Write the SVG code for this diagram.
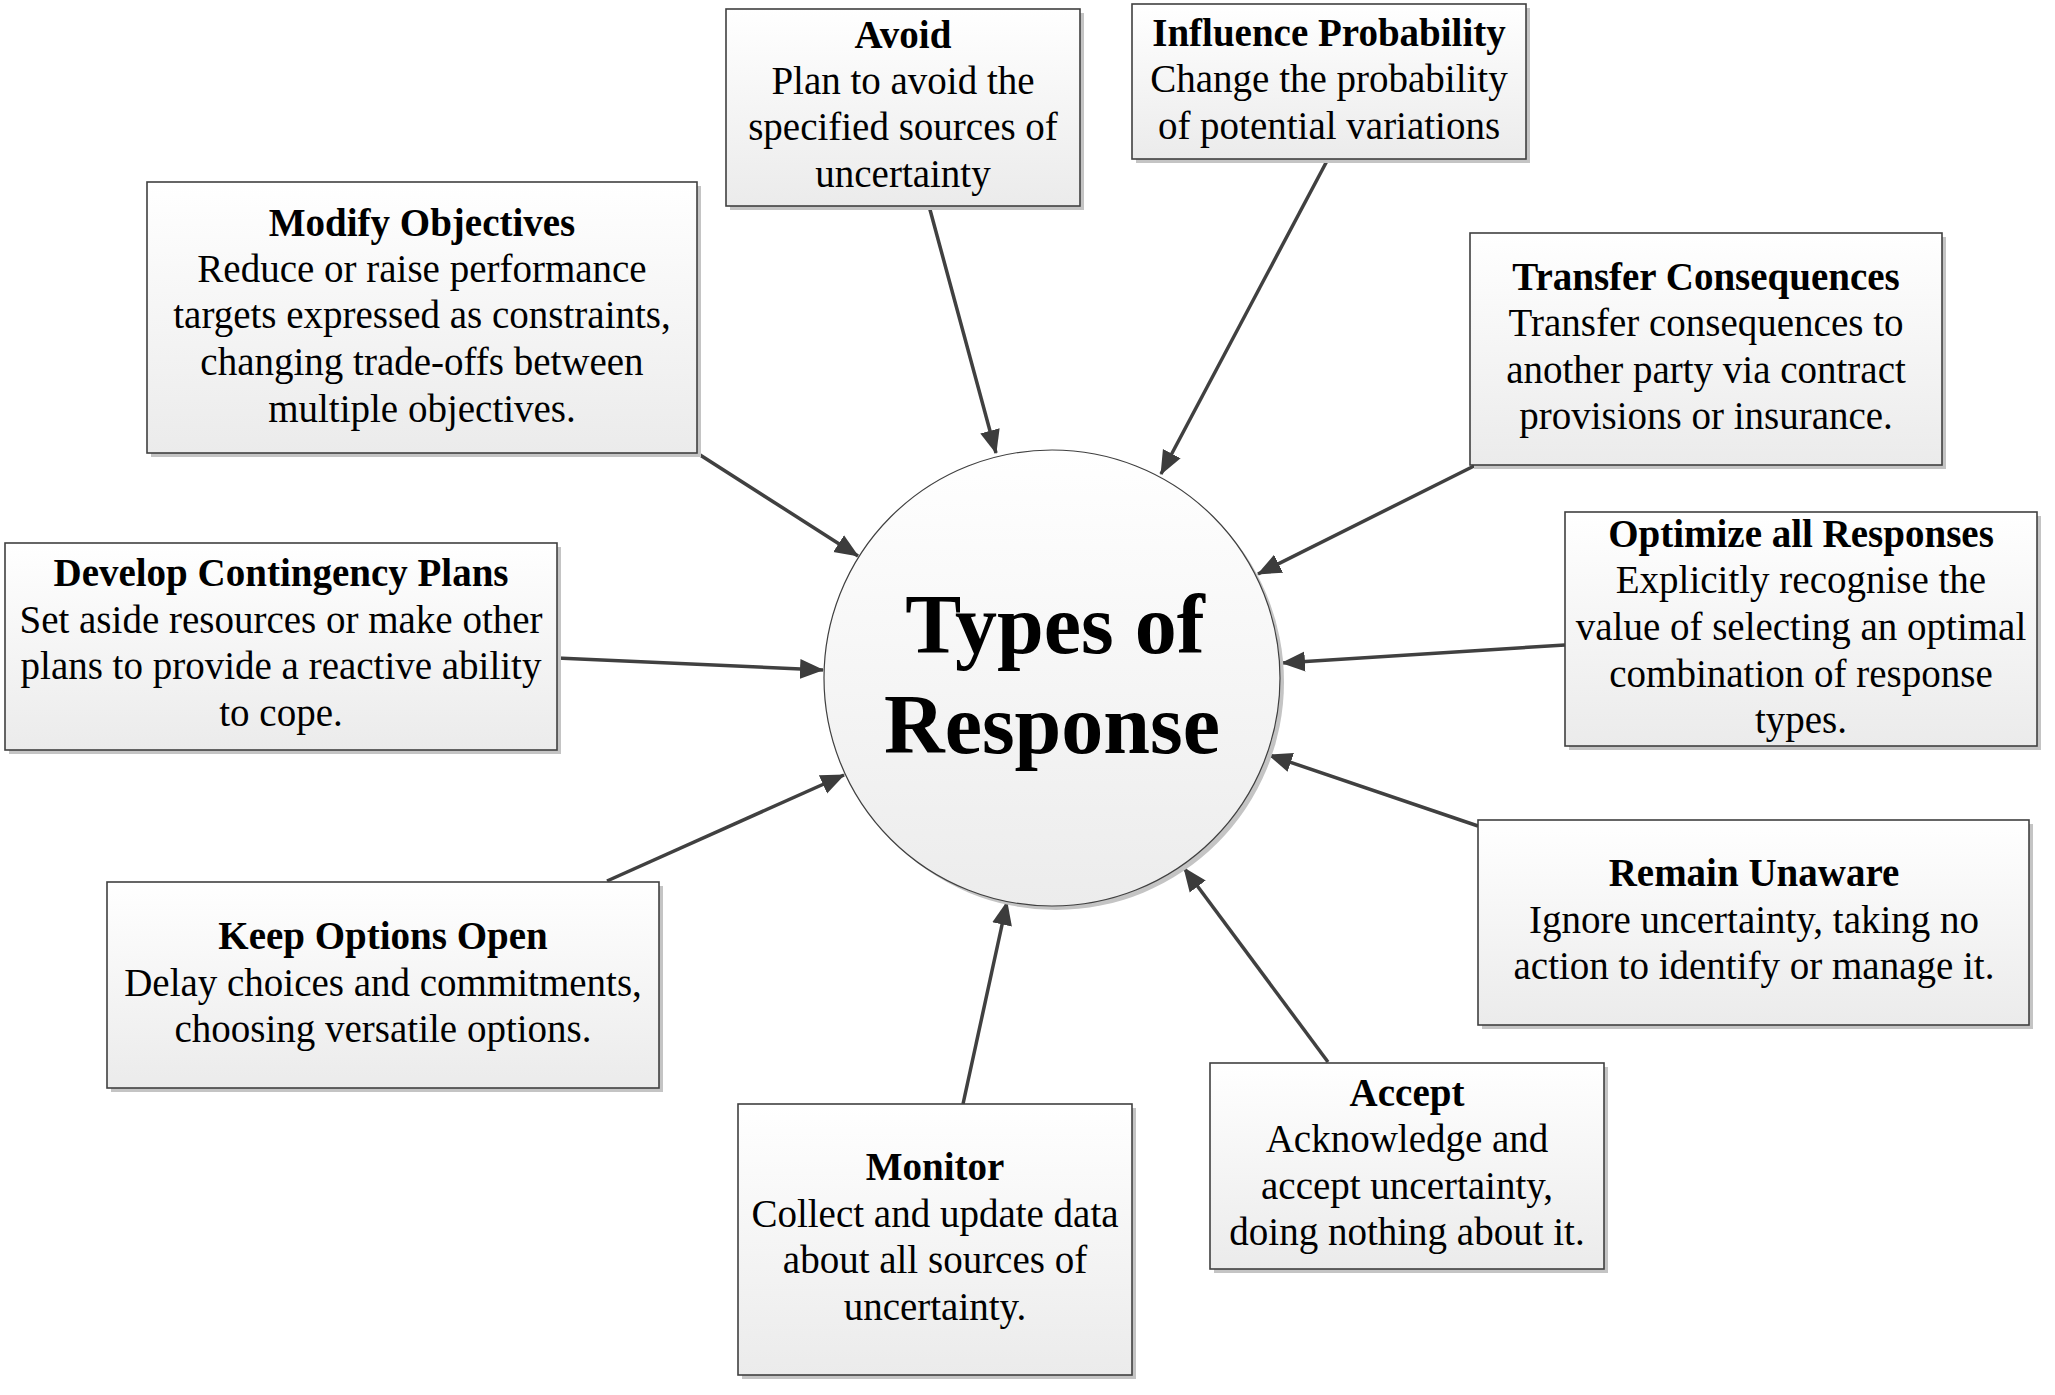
<svg xmlns="http://www.w3.org/2000/svg" width="2055" height="1395" viewBox="0 0 2055 1395">
<style>
.box{fill:url(#bg);stroke:#404040;stroke-width:1.6}
.sh{fill:#c4c4c4}
.t{font-family:"Liberation Serif","Times New Roman",serif;font-size:39px;fill:#000;text-anchor:middle}
.b{font-weight:bold}
.c{stroke:#404040;stroke-width:3.5;fill:none;marker-end:url(#ah)}
.ct{font-family:"Liberation Serif","Times New Roman",serif;font-size:84px;font-weight:bold;fill:#000;text-anchor:middle}
</style>
<defs>
<linearGradient id="bg" x1="0" y1="0" x2="0" y2="1">
<stop offset="0" stop-color="#ffffff"/>
<stop offset="1" stop-color="#ebebeb"/>
</linearGradient>
<linearGradient id="cg" x1="0" y1="0" x2="0" y2="1">
<stop offset="0" stop-color="#ffffff"/>
<stop offset="1" stop-color="#ececec"/>
</linearGradient>
<marker id="ah" markerUnits="userSpaceOnUse" viewBox="0 0 24 22" refX="23" refY="11" markerWidth="24" markerHeight="22" orient="auto">
<path d="M0,1 L24,11 L0,21 z" fill="#3c3c3c"/>
</marker>
</defs>
<rect width="2055" height="1395" fill="#ffffff"/>

<g id="connectors">
<line class="c" x1="929" y1="206" x2="996" y2="453"/>
<line class="c" x1="1328" y1="159" x2="1161" y2="474"/>
<line class="c" x1="697" y1="453" x2="858" y2="556"/>
<line class="c" x1="1476" y1="465" x2="1258" y2="574"/>
<line class="c" x1="557" y1="658" x2="823" y2="670"/>
<line class="c" x1="1565" y1="645" x2="1282" y2="663"/>
<line class="c" x1="607" y1="881" x2="844" y2="775"/>
<line class="c" x1="1478" y1="826" x2="1269" y2="755"/>
<line class="c" x1="963" y1="1104" x2="1007" y2="902"/>
<line class="c" x1="1328" y1="1062" x2="1184" y2="868"/>
</g>

<g id="center">
<circle cx="1056" cy="682" r="228" class="sh"/>
<circle cx="1052" cy="678" r="228" fill="url(#cg)" stroke="#404040" stroke-width="1.2"/>
<text class="ct" x="1055" y="653">Types of</text>
<text class="ct" x="1052" y="753">Response</text>
</g>

<g id="avoid">
<rect class="sh" x="730" y="13" width="354" height="197"/>
<rect class="box" x="726" y="9" width="354" height="197"/>
<text class="t"><tspan class="b" x="903" y="48">Avoid</tspan><tspan x="903" y="94">Plan to avoid the</tspan><tspan x="903" y="140">specified sources of</tspan><tspan x="903" y="187">uncertainty</tspan></text>
</g>

<g id="influence">
<rect class="sh" x="1136" y="8" width="394" height="155"/>
<rect class="box" x="1132" y="4" width="394" height="155"/>
<text class="t"><tspan class="b" x="1329" y="46">Influence Probability</tspan><tspan x="1329" y="92">Change the probability</tspan><tspan x="1329" y="139">of potential variations</tspan></text>
</g>

<g id="modify">
<rect class="sh" x="151" y="186" width="550" height="271"/>
<rect class="box" x="147" y="182" width="550" height="271"/>
<text class="t"><tspan class="b" x="422" y="236">Modify Objectives</tspan><tspan x="422" y="282">Reduce or raise performance</tspan><tspan x="422" y="328">targets expressed as constraints,</tspan><tspan x="422" y="375">changing trade-offs between</tspan><tspan x="422" y="422">multiple objectives.</tspan></text>
</g>

<g id="transfer">
<rect class="sh" x="1474" y="237" width="472" height="232"/>
<rect class="box" x="1470" y="233" width="472" height="232"/>
<text class="t"><tspan class="b" x="1706" y="290">Transfer Consequences</tspan><tspan x="1706" y="336">Transfer consequences to</tspan><tspan x="1706" y="383">another party via contract</tspan><tspan x="1706" y="429">provisions or insurance.</tspan></text>
</g>

<g id="develop">
<rect class="sh" x="9" y="547" width="552" height="207"/>
<rect class="box" x="5" y="543" width="552" height="207"/>
<text class="t"><tspan class="b" x="281" y="586">Develop Contingency Plans</tspan><tspan x="281" y="633">Set aside resources or make other</tspan><tspan x="281" y="679">plans to provide a reactive ability</tspan><tspan x="281" y="726">to cope.</tspan></text>
</g>

<g id="optimize">
<rect class="sh" x="1569" y="516" width="472" height="234"/>
<rect class="box" x="1565" y="512" width="472" height="234"/>
<text class="t"><tspan class="b" x="1801" y="547">Optimize all Responses</tspan><tspan x="1801" y="593">Explicitly recognise the</tspan><tspan x="1801" y="640">value of selecting an optimal</tspan><tspan x="1801" y="687">combination of response</tspan><tspan x="1801" y="733">types.</tspan></text>
</g>

<g id="keep">
<rect class="sh" x="111" y="886" width="552" height="206"/>
<rect class="box" x="107" y="882" width="552" height="206"/>
<text class="t"><tspan class="b" x="383" y="949">Keep Options Open</tspan><tspan x="383" y="996">Delay choices and commitments,</tspan><tspan x="383" y="1042">choosing versatile options.</tspan></text>
</g>

<g id="remain">
<rect class="sh" x="1482" y="824" width="551" height="205"/>
<rect class="box" x="1478" y="820" width="551" height="205"/>
<text class="t"><tspan class="b" x="1754" y="886">Remain Unaware</tspan><tspan x="1754" y="933">Ignore uncertainty, taking no</tspan><tspan x="1754" y="979">action to identify or manage it.</tspan></text>
</g>

<g id="monitor">
<rect class="sh" x="742" y="1108" width="394" height="271"/>
<rect class="box" x="738" y="1104" width="394" height="271"/>
<text class="t"><tspan class="b" x="935" y="1180">Monitor</tspan><tspan x="935" y="1227">Collect and update data</tspan><tspan x="935" y="1273">about all sources of</tspan><tspan x="935" y="1320">uncertainty.</tspan></text>
</g>

<g id="accept">
<rect class="sh" x="1214" y="1067" width="394" height="206"/>
<rect class="box" x="1210" y="1063" width="394" height="206"/>
<text class="t"><tspan class="b" x="1407" y="1106">Accept</tspan><tspan x="1407" y="1152">Acknowledge and</tspan><tspan x="1407" y="1199">accept uncertainty,</tspan><tspan x="1407" y="1245">doing nothing about it.</tspan></text>
</g>
</svg>
